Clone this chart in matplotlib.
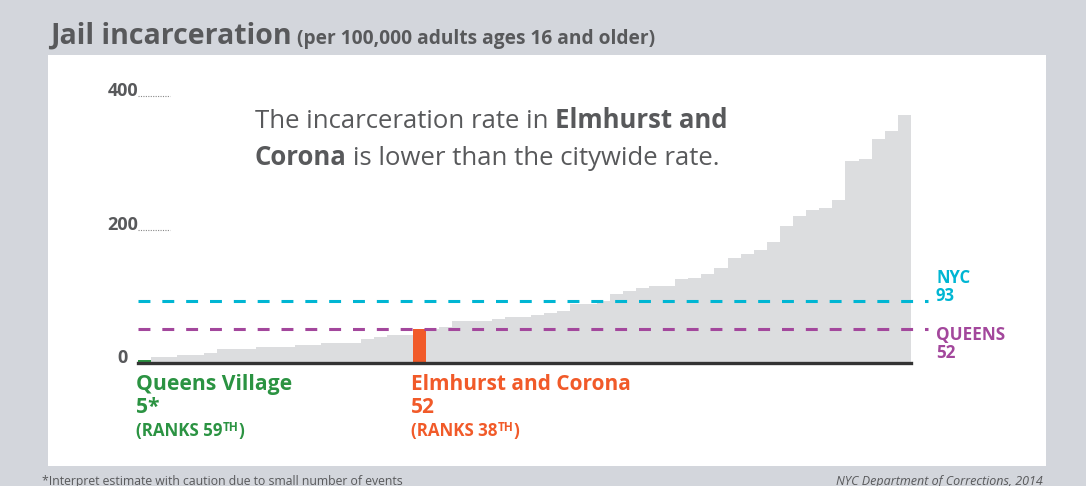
import matplotlib
matplotlib.use("Agg")
import matplotlib.pyplot as plt
import matplotlib.transforms as mtransforms

plt.rcParams['font.family'] = ['Open Sans', 'DejaVu Sans']

# data (per 100,000 adults 16+), sorted low to high
rates = [5, 10, 10, 13, 13, 16, 21, 22, 22, 24, 24, 25, 28, 28, 30, 31, 31, 36, 40, 42,
         43, 52, 52, 54, 63, 63, 64, 66, 69, 70, 73, 75, 79, 88, 88, 93, 104, 108, 112, 116,
         116, 126, 128, 134, 142, 158, 163, 169, 181, 206, 220, 230, 233, 244, 302, 305, 336, 348, 371]
low_idx = 0     # Queens Village
elm_idx = 21    # Elmhurst and Corona
nyc_rate = 93
queens_rate = 52
yticks = [0, 200, 400]

W, H = 1086, 486
GRAY_BG = '#d3d6dc'
BAR = '#dcdddf'
TXT = '#58595b'
GREEN = '#2b9342'
ORANGE = '#f15a29'
CYAN = '#00b6d3'
PURPLE = '#a3479c'

fig = plt.figure(figsize=(W / 100, H / 100), dpi=100, facecolor=GRAY_BG)

def fx(x):
    return x / W

def fy(y):
    return 1 - y / H

# white panel
fig.patches.append(plt.Rectangle((fx(48), fy(466)), fx(1046) - fx(48), fy(55) - fy(466),
                                 transform=fig.transFigure, facecolor='white', edgecolor='none', zorder=-5))

ax = fig.add_axes([fx(138), fy(363.3), fx(911) - fx(138), fy(96) - fy(363.3)])
ax.set_zorder(2)
ax.set_facecolor('none')
n = len(rates)
colors = [BAR] * n
colors[low_idx] = GREEN
colors[elm_idx] = ORANGE
ax.bar(range(n), rates, width=1.0, align='edge', color=colors, edgecolor='none', zorder=2)
ax.set_xlim(0, n)
ax.set_ylim(0, 400)
for s in ax.spines.values():
    s.set_visible(False)
ax.set_xticks([])
ax.set_yticks([])
ax.axhline(0, color='#333333', lw=2.4, zorder=3, clip_on=False)

# reference lines, running a little past the last bar
ext = n * (928 - 138) / (911 - 138)
ax.plot([0, ext], [nyc_rate, nyc_rate], color=CYAN, lw=2.2, ls=(0, (3.9, 3.9)), clip_on=False, zorder=4)
ax.plot([0, ext], [queens_rate, queens_rate], color=PURPLE, lw=2.2, ls=(0, (3.9, 3.9)), clip_on=False, zorder=4)

# y labels with little dotted guides
blend = mtransforms.blended_transform_factory(ax.transAxes, ax.transData)
for v in yticks:
    ax.text(0.0 if v else -0.014, v, str(v), transform=blend, ha='right', va='baseline',
            fontsize=13, fontweight='bold', color=TXT)
    if v:
        ax.plot([0, 0.041], [v, v], transform=blend, color='#888888', lw=0.8, ls=(0, (1, 1.2)), clip_on=False)

renderer = fig.canvas.get_renderer()

def width_of(txt, **kw):
    t = fig.text(0, 0, txt, **kw)
    w = t.get_window_extent(renderer=renderer).width
    t.remove()
    return w

def run(parts, x, y, color):
    # draw text pieces one after another on the same baseline
    for txt, kw in parts:
        dy = kw.pop('dy', 0)
        x += kw.pop('dx', 0)
        if txt == ' ':
            x += width_of('a a', **kw) - width_of('aa', **kw)
            continue
        t = fig.text(fx(x), fy(y - dy), txt, color=color, ha='left', va='baseline', **kw)
        x += t.get_window_extent(renderer=renderer).width

# title
run([('Jail incarceration', dict(fontsize=20.5, fontweight='bold')),
     (' ', dict(fontsize=16, fontweight='bold')),
     ('(per 100,000 adults ages 16 and older)', dict(fontsize=13.8, fontweight='bold'))],
    50, 44, TXT)

# callout
run([('The incarceration rate in', dict(fontsize=18.5)), (' ', dict(fontsize=18.5)),
     ('Elmhurst and', dict(fontsize=18.5, fontweight='bold'))], 255, 128, TXT)
run([('Corona', dict(fontsize=18.5, fontweight='bold')), (' ', dict(fontsize=18.5)),
     ('is lower than the citywide rate.', dict(fontsize=18.5))], 255, 165, TXT)

# bottom labels
rank = dict(fontsize=12.2, fontweight='bold')
sup = dict(fontsize=8.5, fontweight='bold', dy=5)
run([('Queens Village', dict(fontsize=15.2, fontweight='bold'))], 136, 390, GREEN)
run([('5*', dict(fontsize=15.2, fontweight='bold'))], 136, 413, GREEN)
run([('(RANKS 59', dict(rank)), ('TH', dict(sup)), (')', dict(rank, dx=0.5))], 136, 436, GREEN)

run([('Elmhurst and Corona', dict(fontsize=15, fontweight='bold'))], 411, 390, ORANGE)
run([('52', dict(fontsize=15, fontweight='bold'))], 411, 413, ORANGE)
run([('(RANKS 38', dict(rank)), ('TH', dict(sup)), (')', dict(rank, dx=0.5))], 411, 436, ORANGE)

# right labels
run([('NYC', dict(fontsize=12, fontweight='bold'))], 936, 283, CYAN)
run([('93', dict(fontsize=12, fontweight='bold'))], 936, 301, CYAN)
run([('QUEENS', dict(fontsize=12.3, fontweight='bold'))], 936, 340, PURPLE)
run([('52', dict(fontsize=12.3, fontweight='bold'))], 936, 358, PURPLE)

# footer
fig.text(fx(42), fy(485), '*Interpret estimate with caution due to small number of events',
         fontsize=8.8, color=TXT, ha='left', va='baseline')
fig.text(fx(1043), fy(485), 'NYC Department of Corrections, 2014',
         fontsize=9, color=TXT, ha='right', va='baseline', style='italic')

fig.savefig('out.png', dpi=100, facecolor=GRAY_BG)
